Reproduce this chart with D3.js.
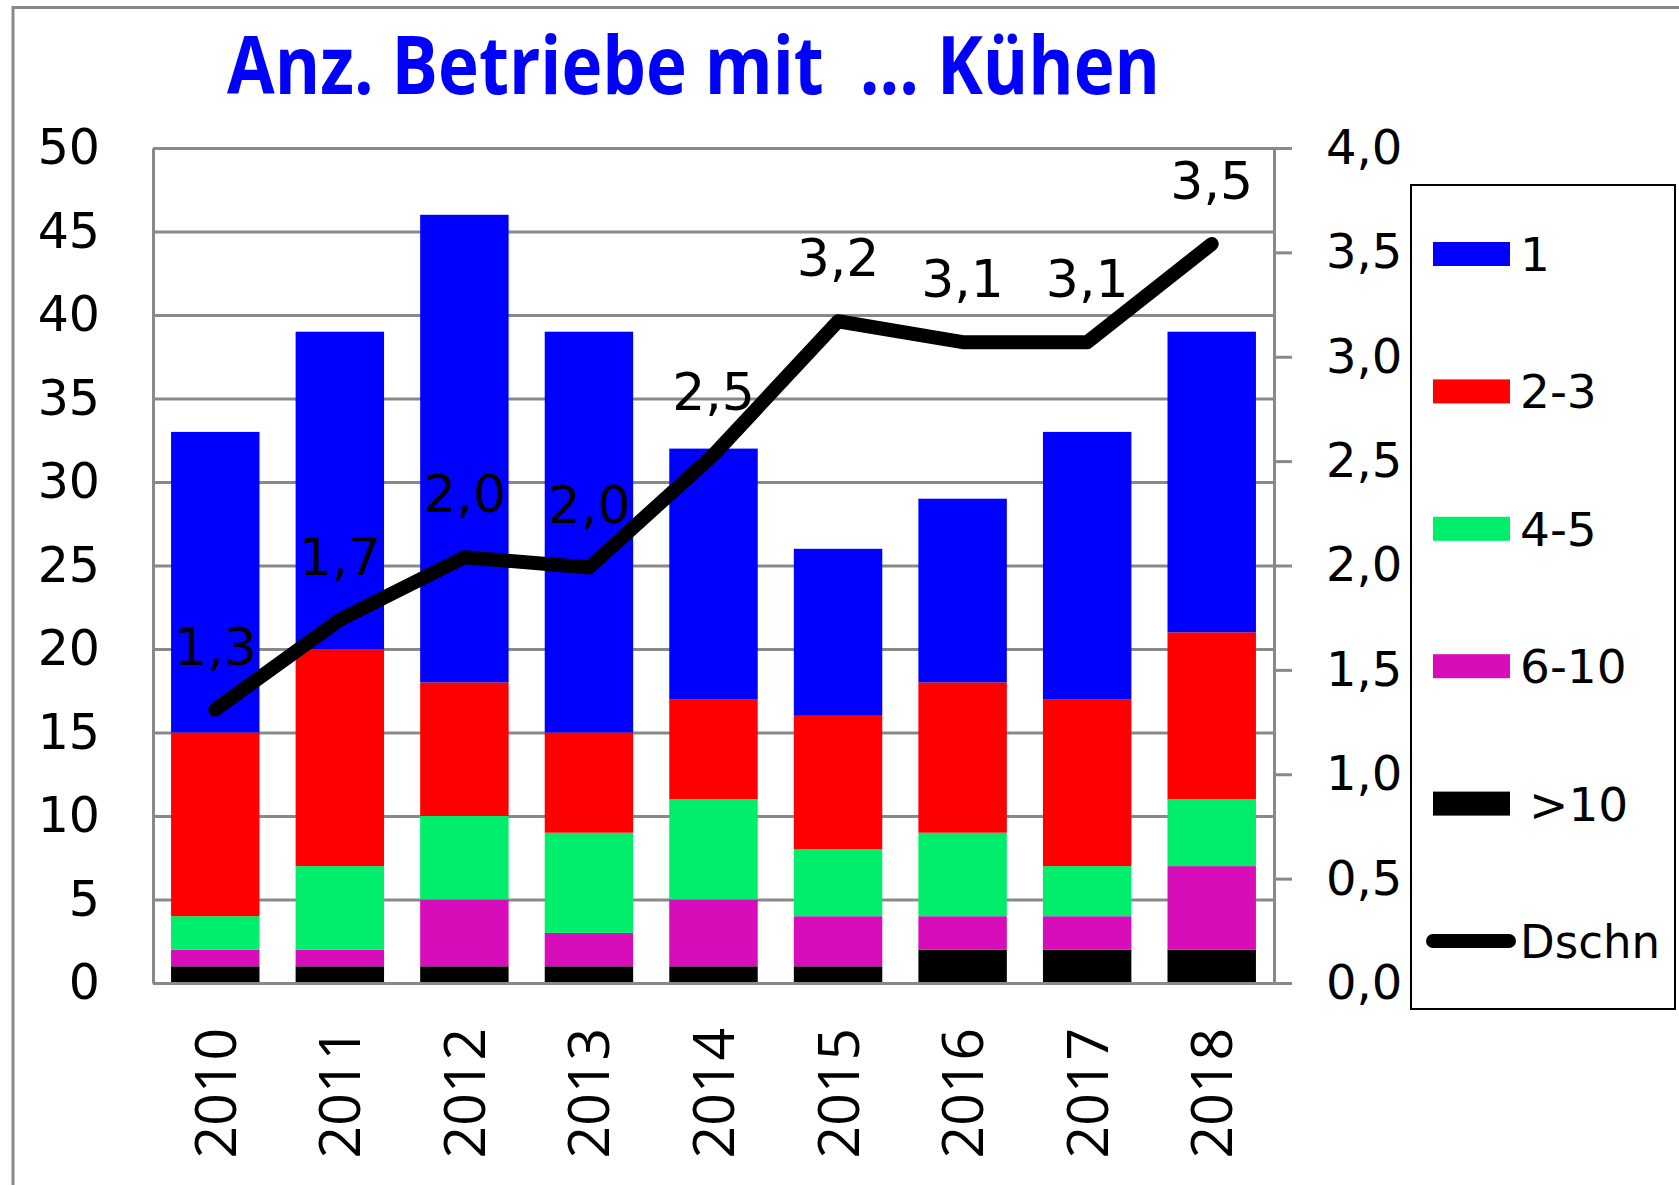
<!DOCTYPE html>
<html>
<head>
<meta charset="utf-8">
<script src="https://cdn.jsdelivr.net/npm/d3@7"></script>
<style>
  body { margin: 0; background: #fff; }
  svg { display: block; }
</style>
</head>
<body>
<script>
var years = ["2010", "2011", "2012", "2013", "2014", "2015", "2016", "2017", "2018"];
var kuehe1 = [18, 19, 28, 24, 15, 10, 11, 16, 18];
var kuehe2bis3 = [11, 13, 8, 6, 6, 8, 9, 10, 10];
var kuehe4bis5 = [2, 5, 5, 6, 6, 4, 5, 3, 4];
var kuehe6bis10 = [1, 1, 4, 2, 4, 3, 2, 2, 5];
var kueheUeber10 = [1, 1, 1, 1, 1, 1, 2, 2, 2];
var dschn = [1.31, 1.74, 2.04, 1.99, 2.53, 3.17, 3.07, 3.07, 3.54];
var leftTicks = [0, 5, 10, 15, 20, 25, 30, 35, 40, 45, 50];
var rightTicks = [0, 0.5, 1, 1.5, 2, 2.5, 3, 3.5, 4];
var seriesNames = ["1", "2-3", "4-5", "6-10", ">10"];

chart();

function chart ()
{
    var width = 1679,
        height = 1185,
        left = 153,
        right = 1274,
        top = 148,
        bottom = 983;

    var grey = "#898989";
    var numFont = "'DejaVu Sans', Verdana, sans-serif";

    var colors = {
        "1": "#0000ff",
        "2-3": "#ff0000",
        "4-5": "#00ee6b",
        "6-10": "#d60db9",
        ">10": "#000000"
    };

    // rows for the stack, bottom series first
    var rows = years.map(function (y, i)
    {
        return {
            year: y,
            ">10": kueheUeber10[i],
            "6-10": kuehe6bis10[i],
            "4-5": kuehe4bis5[i],
            "2-3": kuehe2bis3[i],
            "1": kuehe1[i]
        };
    });
    var stackKeys = [">10", "6-10", "4-5", "2-3", "1"];
    var stacked = d3.stack().keys(stackKeys)(rows);

    var svg = d3.select("body").append("svg")
        .attr("width", width)
        .attr("height", height);

    svg.append("rect")
        .attr("width", width)
        .attr("height", height)
        .attr("fill", "#fff");

    // outer frame of the chart object
    svg.append("path")
        .attr("d", "M13," + height + "V7.5H" + width)
        .attr("fill", "none")
        .attr("stroke", grey)
        .attr("stroke-width", 3);

    svg.append("text")
        .attr("x", 227)
        .attr("y", 94)
        .attr("textLength", 933)
        .attr("lengthAdjust", "spacingAndGlyphs")
        .style("white-space", "pre")
        .attr("font-family", "'Open Sans', sans-serif")
        .attr("font-weight", 700)
        .attr("font-size", 80)
        .attr("fill", "#0000ff")
        .text("Anz. Betriebe mit  ... Kühen");

    var x = d3.scaleBand()
        .domain(years)
        .range([left, right])
        .paddingInner(0.29)
        .paddingOuter(0.145);
    var y = d3.scaleLinear().domain([0, 50]).range([bottom, top]);
    var y2 = d3.scaleLinear().domain([0, 4]).range([bottom, top]);

    // gridlines
    var grid = svg.append("g")
        .attr("transform", "translate(" + left + ",0)")
        .call(d3.axisLeft(y).tickValues(leftTicks).tickSize(-(right - left)).tickFormat(""));
    grid.select(".domain").remove();
    grid.selectAll("line").attr("stroke", grey).attr("stroke-width", 3);

    // bars
    svg.append("g")
        .selectAll("g")
        .data(stacked)
        .enter()
        .append("g")
        .attr("fill", function (d) { return colors[d.key]; })
        .selectAll("rect")
        .data(function (d) { return d; })
        .enter()
        .append("rect")
        .attr("x", function (d) { return x(d.data.year); })
        .attr("y", function (d) { return y(d[1]); })
        .attr("width", x.bandwidth())
        .attr("height", function (d) { return y(d[0]) - y(d[1]); });

    // left axis
    var yAxis = svg.append("g")
        .attr("transform", "translate(" + left + ",0)")
        .call(d3.axisLeft(y).tickValues(leftTicks).tickSize(0).tickSizeOuter(0).tickPadding(53));
    yAxis.select(".domain").attr("stroke", grey).attr("stroke-width", 3);
    yAxis.selectAll("text")
        .attr("font-family", numFont)
        .attr("font-size", 49)
        .attr("fill", "#000");

    // right axis
    var y2Axis = svg.append("g")
        .attr("transform", "translate(" + right + ",0)")
        .call(d3.axisRight(y2).tickValues(rightTicks).tickSize(18).tickSizeOuter(0).tickPadding(34)
            .tickFormat(function (d) { return d3.format(".1f")(d).replace(".", ","); }));
    y2Axis.select(".domain").attr("stroke", grey).attr("stroke-width", 3);
    y2Axis.selectAll("line").attr("stroke", grey).attr("stroke-width", 3);
    y2Axis.selectAll("text")
        .attr("font-family", numFont)
        .attr("font-size", 48)
        .attr("fill", "#000");

    // bottom axis with rotated years
    var xAxis = svg.append("g")
        .attr("transform", "translate(0," + bottom + ")")
        .call(d3.axisBottom(x).tickSize(0).tickSizeOuter(0));
    xAxis.select(".domain")
        .attr("stroke", grey)
        .attr("stroke-width", 3);
    xAxis.selectAll("text")
        .attr("transform", "rotate(-90)")
        .attr("text-anchor", "end")
        .attr("x", -45)
        .attr("y", 0)
        .attr("dy", "0.36em")
        .attr("font-family", "'Open Sans', sans-serif")
        .attr("font-size", 57)
        .attr("fill", "#000");

    // Dschn line
    var line = d3.line()
        .x(function (d, i) { return x(years[i]) + x.bandwidth() / 2; })
        .y(function (d) { return y2(d); });

    svg.append("path")
        .attr("d", line(dschn))
        .attr("fill", "none")
        .attr("stroke", "#000")
        .attr("stroke-width", 14)
        .attr("stroke-linecap", "round")
        .attr("stroke-linejoin", "round");

    svg.append("g")
        .selectAll("text")
        .data(dschn)
        .enter()
        .append("text")
        .attr("x", function (d, i) { return x(years[i]) + x.bandwidth() / 2; })
        .attr("y", function (d) { return y2(d) - 45; })
        .attr("text-anchor", "middle")
        .attr("font-family", numFont)
        .attr("font-size", 52)
        .attr("fill", "#000")
        .text(function (d) { return d3.format(".1f")(d).replace(".", ","); });

    // legend
    var legend = svg.append("g");
    legend.append("rect")
        .attr("x", 1411)
        .attr("y", 185)
        .attr("width", 264)
        .attr("height", 824)
        .attr("fill", "#fff")
        .attr("stroke", "#000")
        .attr("stroke-width", 2);

    var item = legend.selectAll(".item")
        .data(seriesNames)
        .enter()
        .append("g")
        .attr("class", "item")
        .attr("transform", function (d, i) { return "translate(0," + (254 + i * 137.4) + ")"; });
    item.append("rect")
        .attr("x", 1433)
        .attr("y", -12)
        .attr("width", 77)
        .attr("height", 24)
        .attr("fill", function (d) { return colors[d]; });
    item.append("text")
        .attr("x", function (d) { return d === ">10" ? 1529 : 1520; })
        .attr("y", 0)
        .attr("dy", "0.36em")
        .attr("font-family", numFont)
        .attr("font-size", 47)
        .attr("fill", "#000")
        .text(function (d) { return d; });

    var lineItem = legend.append("g")
        .attr("transform", "translate(0," + (254 + 5 * 137.4) + ")");
    lineItem.append("line")
        .attr("x1", 1433)
        .attr("x2", 1509)
        .attr("stroke", "#000")
        .attr("stroke-width", 14)
        .attr("stroke-linecap", "round");
    lineItem.append("text")
        .attr("x", 1520)
        .attr("y", 0)
        .attr("dy", "0.36em")
        .attr("font-family", numFont)
        .attr("font-size", 47)
        .attr("textLength", 140)
        .attr("lengthAdjust", "spacingAndGlyphs")
        .attr("fill", "#000")
        .text("Dschn");
}
</script>
</body>
</html>
